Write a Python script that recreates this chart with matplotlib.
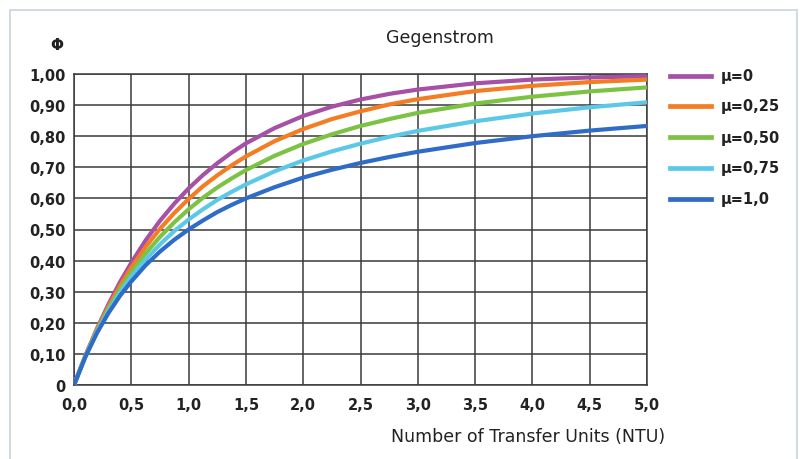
import matplotlib
matplotlib.use("Agg")
import matplotlib.pyplot as plt
from matplotlib.lines import Line2D
from matplotlib.patches import Rectangle
from matplotlib.ticker import FixedLocator, FuncFormatter

# Counterflow exchanger efficiency
ntu = [0, 0.1, 0.2, 0.3, 0.4, 0.5, 0.625, 0.75, 0.875, 1.0, 1.125, 1.25, 1.375, 1.5, 1.75,
       2.0, 2.25, 2.5, 2.75, 3.0, 3.5, 4.0, 4.5, 5.0]
phi_mu_0 = [0, .095, .181, .259, .330, .393, .465, .528, .583, .632, .675, .713, .747, .777, .826,
            .865, .895, .918, .936, .950, .970, .982, .989, .993]
phi_mu_025 = [0, .094, .178, .252, .318, .378, .444, .502, .553, .598, .639, .674, .706, .735, .784,
              .823, .855, .880, .902, .919, .945, .962, .974, .982]
phi_mu_050 = [0, .093, .174, .245, .307, .362, .423, .476, .523, .565, .602, .635, .664, .691, .737,
              .775, .806, .833, .855, .875, .905, .927, .944, .957]
phi_mu_075 = [0, .092, .170, .238, .296, .348, .404, .452, .495, .532, .565, .595, .621, .645, .687,
              .722, .751, .776, .798, .817, .848, .873, .893, .909]
phi_mu_100 = [0, .091, .167, .231, .286, .333, .385, .429, .467, .500, .529, .556, .579, .600, .636,
              .667, .692, .714, .733, .750, .778, .800, .818, .833]

series = [phi_mu_0, phi_mu_025, phi_mu_050, phi_mu_075, phi_mu_100]
labels = ["\u03bc=0", "\u03bc=0,25", "\u03bc=0,50", "\u03bc=0,75", "\u03bc=1,0"]
colors = ["#a650a6", "#f47c22", "#7cc243", "#5cc8e8", "#2f6cc8"]

x_ticks = [0, 0.5, 1.0, 1.5, 2.0, 2.5, 3.0, 3.5, 4.0, 4.5, 5.0]
y_ticks = [0, .1, .2, .3, .4, .5, .6, .7, .8, .9, 1.0]

plt.rcParams["font.family"] = ["DejaVu Sans"]
TXT = "#222222"
GRID = "#3a3a3a"

fig = plt.figure(figsize=(8.02, 4.6), dpi=100)
W, H = 802, 460
ax = fig.add_axes([74 / W, 1 - 386 / H, (647 - 74) / W, (386 - 75) / H])

for vals, col in zip(series, colors):
    ax.plot(ntu, vals, color=col, lw=3.0, solid_capstyle="butt", solid_joinstyle="round", zorder=3)

ax.set_xlim(0, 5)
ax.set_ylim(0, 1)
ax.xaxis.set_major_locator(FixedLocator(x_ticks))
ax.yaxis.set_major_locator(FixedLocator(y_ticks))
ax.xaxis.set_major_formatter(FuncFormatter(lambda v, p: f"{v:.1f}".replace(".", ",")))
ax.yaxis.set_major_formatter(FuncFormatter(lambda v, p: "0" if v == 0 else f"{v:.2f}".replace(".", ",")))
ax.grid(True, color=GRID, lw=1.1, zorder=1)
for s in ax.spines.values():
    s.set_color(GRID)
    s.set_linewidth(1.1)
ax.tick_params(length=0, colors=TXT, labelsize=10.5)
ax.tick_params(axis="y", pad=6)
ax.tick_params(axis="x", pad=9)
for t in ax.get_xticklabels() + ax.get_yticklabels():
    t.set_fontweight("bold")

fig.text(440 / W, 1 - 38 / H, "Gegenstrom", ha="center", va="center", fontsize=12.5, color=TXT)
fig.text(57 / W, 1 - 46 / H, "\u03a6", ha="center", va="center", fontsize=11, fontweight="bold", color=TXT)
fig.text(665 / W, 1 - 437 / H, "Number of Transfer Units (NTU)", ha="right", va="center",
         fontsize=12.5, color=TXT)

# legend drawn by hand at the right
row_y = [77, 107, 138, 169, 200]
for yy, lab, col in zip(row_y, labels, colors):
    fig.add_artist(Line2D([670 / W, 711 / W], [1 - yy / H, 1 - yy / H], color=col, lw=3.4,
                          transform=fig.transFigure))
    fig.text(721 / W, 1 - yy / H, lab, ha="left", va="center", fontsize=10.5,
             fontweight="bold", color=TXT)

# light outer frame
fig.add_artist(Rectangle((10 / W, -0.05), (797 - 10) / W, 1 - 11 / H + 0.05, transform=fig.transFigure,
                         fill=False, edgecolor="#c9d4df", lw=1.2))

fig.savefig("out.png", dpi=100)
